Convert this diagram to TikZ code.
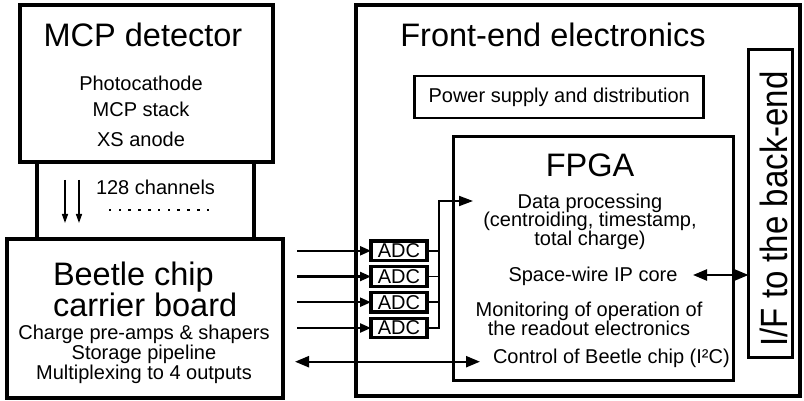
\documentclass[tikz,border=0pt]{standalone}
\usepackage{fontspec}
\setmainfont{Liberation Sans}
\newfontfamily\rotfont{Liberation Sans}
\usetikzlibrary{arrows.meta}
\begin{document}
\begin{tikzpicture}[x=1pt,y=-1pt,
  box/.style={draw, inner sep=0pt, outer sep=0pt},
  txt/.style={inner sep=0pt, outer sep=0pt, anchor=base, font=\fontsize{20}{22}\selectfont},
  bigtxt/.style={txt, font=\fontsize{32.5}{34}\selectfont},
  adcbox/.style={box, line width=3.2pt, minimum width=56pt, minimum height=19.5pt, font=\fontsize{20}{22}\selectfont},
  sig/.style={line width=2.3pt, -{Triangle[length=11pt,width=9pt]}},
  dbl/.style={line width=2.3pt, {Triangle[length=14pt,width=11pt]}-{Triangle[length=14pt,width=11pt]}},
  chn/.style={line width=1.4pt, -{Triangle[length=9pt,width=6pt]}},
  busline/.style={line width=1.8pt}
]
\useasboundingbox (0,0) rectangle (804,401);
% boxes
\node[box, line width=3.3pt, minimum width=217pt, minimum height=77pt] (chan) at (145.5,201) {};
\node[box, line width=4pt, minimum width=253pt, minimum height=157pt] (mcp) at (146.5,84) {};
\node[box, line width=4pt, minimum width=276pt, minimum height=158pt] (beetle) at (144.5,318.5) {};
\node[box, line width=4pt, minimum width=444.3pt, minimum height=390.5pt] (fe) at (577.85,200.25) {};
\node[box, line width=2.7pt, minimum width=289pt, minimum height=42pt] (psu) at (559.2,97) {};
\node[box, line width=3pt, minimum width=280.7pt, minimum height=243pt] (fpga) at (593.35,258.5) {};
\node[box, line width=3pt, minimum width=43.5pt, minimum height=307.5pt] (if) at (770.25,203.25) {};
\node[adcbox] (adc1) at (399,250.8) {ADC};
\node[adcbox] (adc2) at (399,276.5) {ADC};
\node[adcbox] (adc3) at (399,302.2) {ADC};
\node[adcbox] (adc4) at (399,328) {ADC};
% texts
\node[bigtxt] (mcpt) at (143,47) {MCP detector};
\node[txt] (mcp1) at (141,90.7) {Photocathode};
\node[txt] (mcp2) at (141,117) {MCP stack};
\node[txt] (mcp3) at (141,146.7) {XS anode};
\node[txt] (chant) at (155.5,195) {128 channels};
\node[inner sep=0pt, outer sep=0pt, anchor=north west, align=left, font=\fontsize{32.5}{28}\selectfont] (bt) at (53,261.7) {Beetle chip\\carrier board};
\node[txt] (bt3) at (144,339.3) {Charge pre-amps \& shapers};
\node[txt] (bt4) at (144,359.5) {Storage pipeline};
\node[txt] (bt5) at (144,379.3) {Multiplexing to 4 outputs};
\node[bigtxt] (fet) at (553,47) {Front-end electronics};
\node[txt] (psut) at (559.2,103) {Power supply and distribution};
\node[bigtxt] (fpgat) at (590,177) {FPGA};
\node[txt] (dp1) at (590,208.3) {Data processing};
\node[txt] (dp2) at (590,226.7) {(centroiding, timestamp,};
\node[txt] (dp3) at (590,245) {total charge)};
\node[txt] (sw) at (593,281.7) {Space-wire IP core};
\node[txt] (mon1) at (589,316.7) {Monitoring of operation of};
\node[txt] (mon2) at (589,335) {the readout electronics};
\node[txt, anchor=base west] (ctl) at (493,363) {Control of Beetle chip (I²C)};
\node[inner sep=0pt, anchor=base, rotate=90, font=\rotfont\fontsize{33}{35}\selectfont] (ift) at (787,209) {\scalebox{1}[1.15]{I/F to the back-end}};
% channel arrows and dots
\coordinate (c1s) at (65,180); \coordinate (c1e) at (65,223);
\coordinate (c2s) at (79,180); \coordinate (c2e) at (79,223);
\draw[chn] (c1s) -- (c1e);
\draw[chn] (c2s) -- (c2e);
\foreach \i in {0,...,10} \fill (110+\i*9.8-1.3,208.7) rectangle ++(2.6,2.6);
% ADC inputs
\foreach \k in {1,2,3,4}
  \draw[sig] ([xshift=14.5pt]beetle.east |- adc\k.west) -- (adc\k.west);
% bus to FPGA
\coordinate (dpin) at (473,201);
\foreach \k in {1,2,3}
  \draw[busline] (adc\k.east) -- ([xshift=12pt]adc\k.east);
\draw[busline, -{Triangle[length=14pt,width=10pt]}] (adc4.east) -- ([xshift=12pt]adc4.east) -- ([xshift=12pt]adc4.east |- dpin) -- (dpin);
% control
\coordinate (ctla) at (295,361.7); \coordinate (ctlb) at (480,361.7);
\draw[dbl] (ctla) -- (ctlb);
% space-wire
\coordinate (swl) at (693,275);
\draw[dbl] (swl) -- (if.west |- swl);
\end{tikzpicture}
\end{document}
